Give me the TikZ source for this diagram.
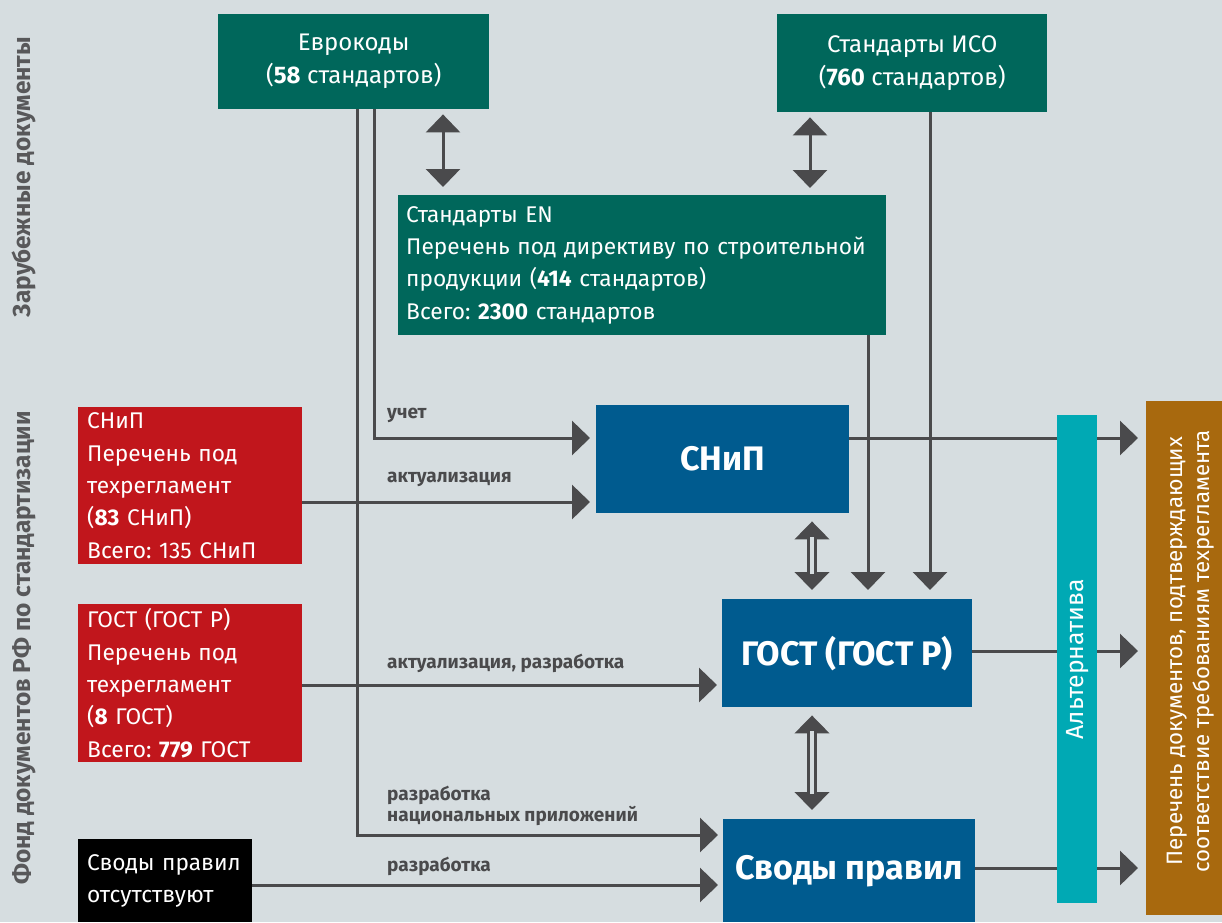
\documentclass[tikz,border=0pt]{standalone}
\usepackage{fontspec}
\setmainfont{Fira Sans}
\frenchspacing
\usetikzlibrary{arrows.meta,calc}
\definecolor{bg}{HTML}{D6DDE0}
\definecolor{tealdk}{HTML}{00675B}
\definecolor{redbx}{HTML}{C1161C}
\definecolor{bluebx}{HTML}{005B8F}
\definecolor{cyanbx}{HTML}{00A9B4}
\definecolor{brownbx}{HTML}{A8690E}
\definecolor{ln}{HTML}{4A4A4C}
\definecolor{sidetxt}{HTML}{58585A}
\tikzset{
  bx/.style={inner sep=0pt, anchor=north west, text=white, font=\fontsize{22.7}{32.3}\selectfont},
  tbx/.style={bx, fill=tealdk, align=center, font=\fontsize{24}{33}\selectfont},
  lbx/.style={bx, align=left, inner xsep=9pt},
  bigbx/.style={bx, fill=bluebx, font=\fontsize{34}{40}\selectfont\bfseries},
  arr/.style={draw=ln, line width=3pt, -{Triangle[width=34pt,length=18pt]}},
  dbl/.style={draw=ln, line width=3pt, {Triangle[width=34pt,length=18pt]}-{Triangle[width=34pt,length=18pt]}},
  dbl2/.style={draw=ln, line width=10pt, {Triangle[width=34pt,length=18pt]}-{Triangle[width=34pt,length=18pt]}},
  lbl/.style={anchor=west, inner sep=0pt, text=ln, font=\fontsize{19}{21}\selectfont\bfseries, align=left},
  side/.style={rotate=90, inner sep=0pt, text=sidetxt, font=\fontsize{24.5}{26}\selectfont\bfseries}
}
\begin{document}
\begin{tikzpicture}[x=1pt,y=-1pt]
\fill[bg] (0,0) rectangle (1222,922);
\useasboundingbox (0,0) rectangle (1222,922);

% helper coordinates
\coordinate (x357) at (357,0);
\coordinate (x374) at (374,0);
\coordinate (x443) at (443,0);
\coordinate (x810) at (810,0);
\coordinate (x812) at (812,0);
\coordinate (x868) at (868,0);
\coordinate (x930) at (930,0);
\coordinate (h438) at (0,438);
\coordinate (h502) at (0,502);
\coordinate (h651) at (0,651);
\coordinate (h685) at (0,685);
\coordinate (h835) at (0,835);
\coordinate (h868) at (0,868);
\coordinate (h885) at (0,885);

% top boxes
\node[tbx, minimum width=271pt, minimum height=95pt] (evro) at (218,14)
  {Еврокоды\\(\textbf{58} стандартов)};
\node[tbx, minimum width=270pt, minimum height=98pt] (iso) at (777,14)
  {Стандарты ИСО\\(\textbf{760} стандартов)};
\node[lbx, fill=tealdk, minimum width=488pt, minimum height=140pt, inner xsep=8pt, text width=472pt] (en) at (398,195)
  {Стандарты EN\\Перечень под директиву по строительной\\продукции (\textbf{414} стандартов)\\Всего: \textbf{2300} стандартов};

% left boxes
\node[lbx, fill=redbx, minimum width=224pt, minimum height=157pt, text width=206pt] (snr) at (78,407)
  {СНиП\\Перечень под\\техрегламент\\(\textbf{83} СНиП)\\Всего: 135 СНиП};
\node[lbx, fill=redbx, minimum width=224pt, minimum height=158pt, text width=206pt] (gostr) at (78,604)
  {ГОСТ (ГОСТ Р)\\Перечень под\\техрегламент\\(\textbf{8} ГОСТ)\\Всего: \textbf{779} ГОСТ};
\node[lbx, fill=black, minimum width=174pt, minimum height=83pt, text width=156pt] (svr) at (78,839)
  {Своды правил\\отсутствуют};

% blue boxes
\node[bigbx, minimum width=253pt, minimum height=108pt] (snb) at (596,405) {СНиП};
\node[bigbx, minimum width=250pt, minimum height=108pt] (gostb) at (722,599) {ГОСТ (ГОСТ Р)};
\node[bigbx, minimum width=252pt, minimum height=103pt] (svb) at (723,819) {Своды правил};

% right box
\node[bx, fill=brownbx, minimum width=76pt, minimum height=514pt] (out) at (1146,401) {};
\node[rotate=90, inner sep=0pt, text=white, align=center, font=\fontsize{22.3}{27}\selectfont] (outtxt) at ($(out.center)+(6,-7)$)
  {Перечень документов, подтверждающих\\соответствие требованиям техрегламента};

% connectors
\draw[dbl, shorten <=5pt, shorten >=8pt] (evro.south -| x443) -- (en.north -| x443);
\draw[dbl, shorten <=5pt, shorten >=7pt] (iso.south -| x810) -- (en.north -| x810);
\draw[arr, shorten >=5pt] (evro.south -| x357) |- (svb.west |- h835);
\draw[arr, shorten >=6pt] (evro.south -| x374) |- (snb.west |- h438);
\draw[arr, shorten >=9pt] (iso.south -| x930) -- (gostb.north -| x930);
\draw[arr, shorten >=9pt] (en.south -| x868) -- (gostb.north -| x868);
\draw[arr, shorten >=6pt] (snr.east |- h502) -- (snb.west |- h502);
\draw[arr, shorten >=5pt] (gostr.east |- h685) -- (gostb.west |- h685);
\draw[arr, shorten >=5pt] (svr.east |- h885) -- (svb.west |- h885);
\draw[arr, shorten >=8pt] (snb.east |- h438) -- (out.west |- h438);
\draw[arr, shorten >=8pt] (gostb.east |- h651) -- (out.west |- h651);
\draw[arr, shorten >=8pt] (svb.east |- h868) -- (out.west |- h868);

% double-shaft arrows
\draw[dbl2, shorten <=8pt, shorten >=9pt] (snb.south -| x812) -- (gostb.north -| x812);
\draw[bg, line width=4pt] ($(snb.south -| x812)+(0,24)$) -- ($(gostb.north -| x812)+(0,-25)$);
\draw[dbl2, shorten <=8pt, shorten >=9pt] (gostb.south -| x812) -- (svb.north -| x812);
\draw[bg, line width=4pt] ($(gostb.south -| x812)+(0,24)$) -- ($(svb.north -| x812)+(0,-25)$);

% alternative bar (on top of lines)
\node[bx, fill=cyanbx, minimum width=40pt, minimum height=488pt] (alt) at (1057,415) {};
\node[rotate=90, inner sep=0pt, text=white, font=\fontsize{24.8}{26}\selectfont] (alttxt) at (alt.center) {Альтернатива};

% labels
\node[lbl] (l1) at (387,415) {учет};
\node[lbl] (l2) at (387,479) {актуализация};
\node[lbl] (l3) at (387,663) {актуализация, разработка};
\node[lbl] (l4) at (387,806) {разработка\\национальных приложений};
\node[lbl] (l5) at (387,866) {разработка};

% side labels
\node[side] (s1) at (24,177) {Зарубежные документы};
\node[side] (s2) at (24,648) {Фонд документов РФ по стандартизации};
\end{tikzpicture}
\end{document}
